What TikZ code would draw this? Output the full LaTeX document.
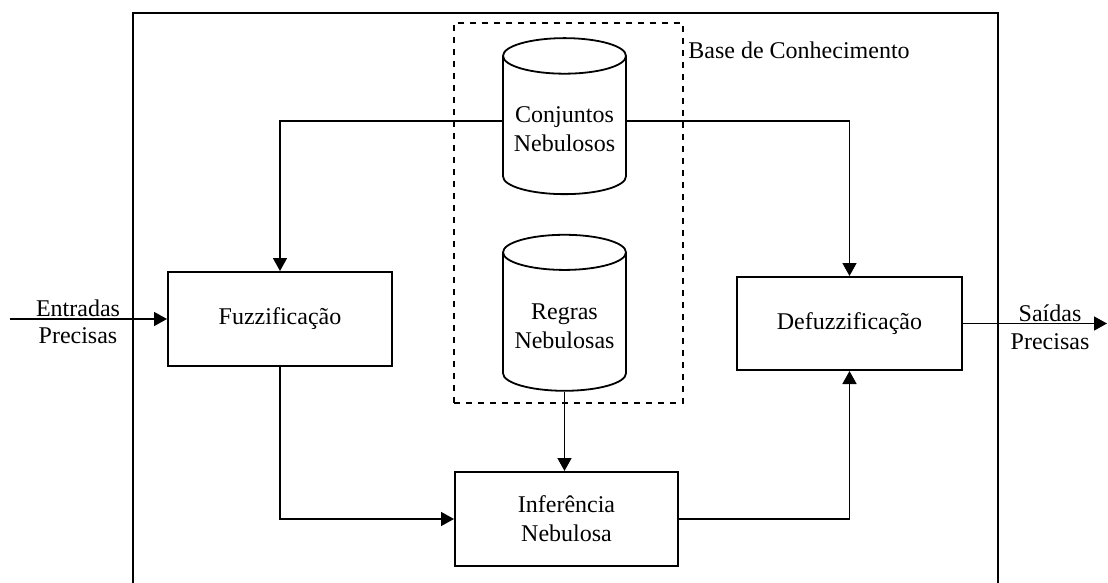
\documentclass[tikz,border=0pt]{standalone}
\usepackage{fontspec}
\setmainfont{Liberation Serif}
\usetikzlibrary{arrows.meta,shapes.geometric}
\tikzset{
  bloco/.style={draw,line width=1pt,minimum width=112pt,minimum height=47pt,align=center},
  banco/.style={draw,line width=0.9pt,cylinder,shape border rotate=90,aspect=0.31,
    minimum width=61.5pt,minimum height=78pt,align=center},
  liga/.style={line width=0.8pt,-{Triangle[length=6.5pt,width=7pt]}},
  rotulo/.style={align=center,inner sep=0pt}
}
\begin{document}
\begin{tikzpicture}[x=0.5pt,y=-0.5pt,font=\fontsize{12}{14.5}\selectfont]
\useasboundingbox (0,0) rectangle (1108,583);
\draw[line width=1pt] (133,583) |- (998,13) -- (998,583);
\node[draw,dashed,line width=0.9pt,minimum width=114.5pt,minimum height=190pt] (base) at (568.5,213) {};
\node[anchor=west,inner sep=0pt] (baselbl) at (688,50) {Base de Conhecimento};
\node[banco] (conj) at (564.5,129.5) {Conjuntos\\Nebulosos};
\node[banco] (regras) at (564.5,326) {Regras\\Nebulosas};
\node[bloco] (fuzz) at (280,319) {Fuzzificação};
\node[bloco,minimum width=112.5pt,minimum height=46.5pt] (defuzz) at (849.5,323.5) {Defuzzificação};
\node[bloco,minimum width=111.5pt] (infer) at (566.5,519) {Inferência\\Nebulosa};
\coordinate (ent) at (10,319);
\coordinate (sai) at (1107,323.5);
\node[rotulo] (entlbl) at (78,322) {Entradas\\[-1pt]Precisas};
\node[rotulo] (sailbl) at (1050,327.5) {Saídas\\[-0.5pt]Precisas};
\draw[liga] (ent) -- (fuzz.west);
\draw[liga] (defuzz.east) -- (sai);
\draw[liga] ([yshift=4.25pt]conj.west) -| (fuzz.north);
\draw[liga] ([yshift=4.25pt]conj.east) -| (defuzz.north);
\draw[liga] (regras.south) -- (regras.south |- infer.north);
\draw[liga] (fuzz.south) |- (infer.west);
\draw[liga] (infer.east) -| (defuzz.south);
\end{tikzpicture}
\end{document}
